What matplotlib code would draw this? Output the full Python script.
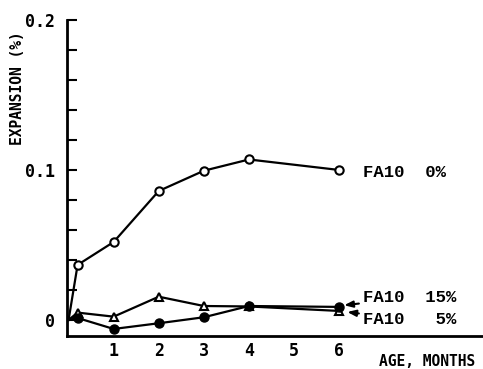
import matplotlib
matplotlib.use("Agg")
import matplotlib.pyplot as plt
from matplotlib.ticker import MultipleLocator, FixedLocator

# Data (age in months, expansion in %)
age = [0, 0.2, 1, 2, 3, 4, 6]
fa10_0 = [0, 0.0367, 0.052, 0.086, 0.0995, 0.107, 0.100]
fa10_15 = [0, 0.0013, -0.006, -0.0022, 0.0018, 0.0093, 0.0087]
fa10_5 = [0, 0.0049, 0.0022, 0.0155, 0.0093, 0.0090, 0.0060]

xticks = [1, 2, 3, 4, 5, 6]
yticks = [0, 0.1, 0.2]
yticklabels = ["0", "0.1", "0.2"]

W, H = 483, 369
fig = plt.figure(figsize=(W / 100, H / 100), dpi=100)
ax = fig.add_axes([67 / W, 33 / H, (W - 67) / W, (336 - 20) / H])

lw = 1.6
mk = slice(1, None)
ax.plot(age, fa10_0, color="black", lw=lw, marker="o", ms=6, mfc="white",
        mec="black", mew=1.5, markevery=mk, clip_on=False)
ax.plot(age, fa10_5, color="black", lw=lw, marker="^", ms=6, mfc="white",
        mec="black", mew=1.5, markevery=mk, clip_on=False)
ax.plot(age, fa10_15, color="black", lw=lw, marker="o", ms=6.5, mfc="black",
        mec="black", markevery=mk, clip_on=False)

ax.set_xlim(-0.035, 9.19)
ax.set_ylim(-0.0107, 0.2)

for s in ["top", "right"]:
    ax.spines[s].set_visible(False)
for s in ["left", "bottom"]:
    ax.spines[s].set_linewidth(2)

ax.yaxis.set_major_locator(FixedLocator(yticks))
ax.set_yticklabels(yticklabels)
ax.yaxis.set_minor_locator(MultipleLocator(0.02))
ax.set_xticks(xticks)
ax.set_xticklabels([str(t) for t in xticks])

tfont = dict(family="DejaVu Sans Mono", weight="bold", size=12)
for lab in ax.get_xticklabels() + ax.get_yticklabels():
    lab.set_fontfamily("DejaVu Sans Mono")
    lab.set_fontweight("bold")
    lab.set_fontsize(12)

ax.tick_params(axis="y", which="both", direction="in", length=7, width=1.5, pad=9)
ax.tick_params(axis="x", which="both", length=0, pad=4)

lab_font = dict(family="DejaVu Sans Mono", weight="bold", size=10.5)
fig.text(18 / W, 1 - 88 / H, "EXPANSION (%)", rotation=90, ha="center",
         va="center", **lab_font)
fig.text(475 / W, 1 - 361 / H, "AGE, MONTHS", ha="right", va="center", **lab_font)

nfont = dict(family="Liberation Mono", weight="bold", size=12.5)
ax.text(6.53, 0.098, "FA10  0%", ha="left", va="center", **nfont)
ax.annotate("FA10  15%", xy=(6.11, 0.0098), xytext=(6.53, 0.0148),
            ha="left", va="center", **nfont,
            arrowprops=dict(arrowstyle="-|>,head_length=0.4,head_width=0.15",
                            color="black", lw=1.5, shrinkA=1, shrinkB=0))
ax.annotate("FA10   5%", xy=(6.18, 0.0053), xytext=(6.53, 0.0),
            ha="left", va="center", **nfont,
            arrowprops=dict(arrowstyle="-|>,head_length=0.4,head_width=0.15",
                            color="black", lw=1.5, shrinkA=1, shrinkB=0))

fig.savefig("out.png", dpi=100)
